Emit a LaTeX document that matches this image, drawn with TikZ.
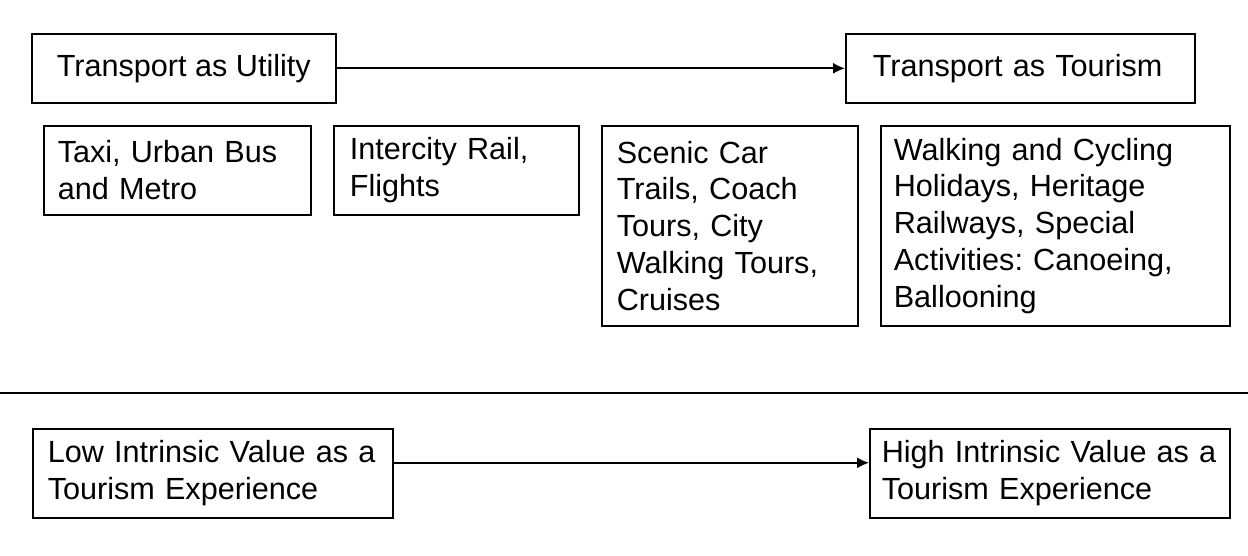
\documentclass[tikz,border=0pt]{standalone}
\usepackage{fontspec}
\setmainfont{Liberation Sans}
\usetikzlibrary{arrows.meta}
\frenchspacing
\tikzstyle{heading}=[draw,line width=0.8pt,anchor=north west,align=left,inner xsep=12pt,font=\fontsize{15.3}{18.4}\selectfont]
\tikzstyle{example}=[draw,line width=0.8pt,anchor=north west,align=left,inner xsep=7pt,font=\fontsize{15.3}{18.4}\selectfont]

\begin{document}
\begin{tikzpicture}[x=0.5pt, y=-0.5pt, >={Latex[length=6pt,width=5.5pt]}]
\useasboundingbox (0, 0) rectangle (1248, 556);
\node[heading, minimum width=152pt, minimum height=34.5pt] at (31, 33) (utility) {Transport as Utility};
\node[heading, inner xsep=13.5pt, text width=147.5pt, minimum height=34.5pt] at (845, 33) (tourism) {Transport as Tourism};
\node[example, text width=119.5pt, minimum height=44.5pt] at (43, 125) (taxi) {Taxi, Urban Bus\\and Metro};
\node[example, inner xsep=8pt, text width=106.5pt, minimum height=44.5pt] at (333, 125) (rail) {Intercity Rail,\\Flights};
\node[example, inner xsep=7.5pt, text width=113pt, minimum height=100pt] at (601, 125) (scenic) {Scenic Car\\Trails, Coach\\Tours, City\\Walking Tours,\\Cruises};
\node[example, inner xsep=6.5pt, text width=161.5pt, minimum height=100pt] at (880, 125) (walking) {Walking and Cycling\\Holidays, Heritage\\Railways, Special\\Activities: Canoeing,\\Ballooning};
\node[example, inner xsep=7.5pt, text width=165pt, minimum height=44.5pt] at (32, 428) (low) {Low Intrinsic Value as a\\Tourism Experience};
\node[example, inner xsep=6pt, text width=168pt, minimum height=44.5pt] at (869, 428) (high) {High Intrinsic Value as a\\Tourism Experience};
\draw[->, line width=0.8pt] (utility) -- (tourism);
\draw[->, line width=0.8pt] ([yshift=5.25pt]low.east) -- ([yshift=5.25pt]high.west);
\draw[line width=0.8pt] (0, 393) -- (1248, 393);
\end{tikzpicture}
\end{document}
